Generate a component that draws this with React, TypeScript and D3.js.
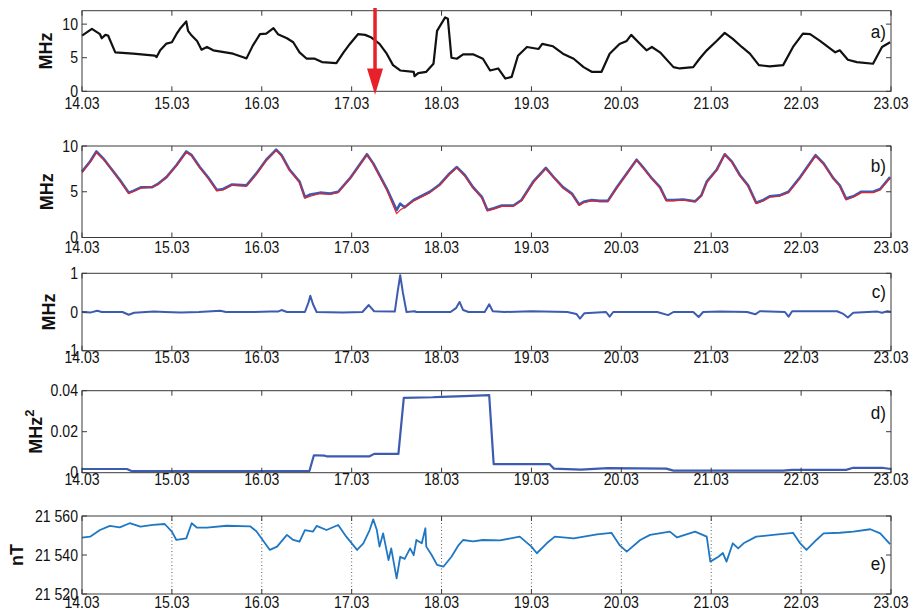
import React from "react";
import * as d3 from "d3";

// ---------- shared x axis ----------
const dayTicks = [14, 15, 16, 17, 18, 19, 20, 21, 22, 23];
const dayTickLabels = ["14.03", "15.03", "16.03", "17.03", "18.03", "19.03", "20.03", "21.03", "22.03", "23.03"];

// ---------- panel a ----------
const aDay = [14.00,14.11,14.20,14.22,14.26,14.29,14.37,14.57,14.81,14.83,14.87,14.94,15.00,15.05,15.09,15.16,15.18,15.22,15.28,15.33,15.39,15.46,15.68,15.81,15.83,15.90,15.98,16.05,16.13,16.18,16.28,16.35,16.42,16.50,16.59,16.67,16.83,16.91,16.98,17.07,17.15,17.22,17.31,17.39,17.46,17.54,17.69,17.70,17.74,17.83,17.91,17.95,18.04,18.07,18.11,18.17,18.24,18.35,18.46,18.54,18.63,18.71,18.78,18.85,18.95,19.08,19.12,19.24,19.35,19.47,19.58,19.67,19.78,19.87,19.98,20.06,20.11,20.19,20.28,20.34,20.43,20.58,20.65,20.80,20.87,20.95,21.06,21.15,21.24,21.34,21.43,21.53,21.65,21.80,21.91,22.02,22.10,22.21,22.38,22.43,22.52,22.62,22.80,22.90,22.99];
const aMHz = [8.3,9.3,8.5,7.9,8.4,8.3,5.8,5.6,5.3,5.1,6.1,7.1,7.3,8.5,9.3,10.4,9.0,8.3,7.5,6.2,6.6,6.1,5.6,5.0,4.9,6.8,8.5,8.6,9.4,8.5,7.9,7.3,5.8,4.85,4.85,4.35,4.2,5.8,7.05,8.5,8.4,8.0,7.05,5.6,3.9,3.1,2.9,2.25,2.7,2.9,4.1,9.0,11.0,10.8,5.0,4.85,5.5,5.5,4.85,3.1,3.4,1.9,2.15,5.3,6.6,6.3,7.05,6.7,5.6,4.85,3.6,2.9,2.9,5.6,7.05,7.5,8.4,7.3,6.1,6.6,5.8,3.6,3.4,3.6,4.85,6.1,7.5,8.7,7.8,6.6,5.6,3.9,3.7,3.9,6.6,8.6,8.5,7.5,5.8,6.1,4.7,4.35,4.1,6.6,7.3];
const aArrowDay = 17.26;

// ---------- panel b ----------
const bDay = [14.00,14.09,14.16,14.24,14.31,14.42,14.52,14.57,14.66,14.78,14.85,14.94,15.05,15.16,15.22,15.31,15.40,15.50,15.57,15.67,15.83,15.94,16.05,16.16,16.22,16.31,16.42,16.48,16.54,16.65,16.76,16.85,16.98,17.07,17.17,17.24,17.39,17.50,17.54,17.59,17.69,17.87,17.98,18.09,18.17,18.26,18.35,18.45,18.51,18.58,18.67,18.80,18.89,19.02,19.16,19.26,19.35,19.45,19.53,19.58,19.67,19.76,19.85,19.95,20.06,20.17,20.24,20.34,20.43,20.50,20.58,20.69,20.82,20.89,20.95,21.06,21.15,21.23,21.32,21.41,21.50,21.58,21.65,21.76,21.86,21.99,22.16,22.25,22.36,22.43,22.50,22.58,22.67,22.80,22.88,22.99];
const bBlue = [7.2,8.3,9.4,8.6,7.7,6.3,4.9,5.1,5.5,5.5,5.9,6.6,7.9,9.4,9.0,7.7,6.6,5.2,5.3,5.8,5.7,7.0,8.5,9.6,9.0,7.4,6.1,4.4,4.7,4.9,4.8,5.0,6.45,7.7,9.1,8.1,5.35,3.0,3.7,3.3,4.1,5.0,5.8,7.0,7.7,6.8,5.5,4.4,3.0,3.2,3.5,3.5,4.1,6.1,7.6,6.45,5.5,4.8,3.6,3.9,4.1,4.0,4.0,5.5,7.0,8.5,7.7,6.45,5.5,4.1,4.1,4.15,3.95,4.6,6.1,7.4,9.1,8.3,6.8,5.7,3.8,4.1,4.5,4.6,5.0,6.6,9.0,8.1,6.45,5.7,4.25,4.5,5.0,5.0,5.3,6.6];
const bRed = [7.1,8.2,9.3,8.5,7.7,6.2,4.8,5.0,5.4,5.5,5.8,6.6,7.8,9.3,8.9,7.6,6.5,5.1,5.2,5.7,5.6,6.9,8.4,9.5,8.9,7.3,6.0,4.3,4.5,4.8,4.7,4.9,6.4,7.6,9.0,8.0,5.2,2.6,3.0,3.3,4.0,4.9,5.7,6.9,7.6,6.7,5.4,4.3,2.9,3.1,3.4,3.4,4.0,6.0,7.5,6.4,5.4,4.7,3.5,3.8,4.0,3.9,3.9,5.4,6.9,8.5,7.6,6.4,5.4,4.0,4.0,4.1,3.9,4.5,6.0,7.3,9.1,8.2,6.7,5.6,3.7,4.0,4.4,4.5,4.9,6.5,8.9,8.0,6.4,5.6,4.1,4.4,4.9,4.9,5.2,6.5];

// ---------- panel c ----------
const cDay = [14.00,14.10,14.17,14.22,14.45,14.52,14.58,14.80,14.92,15.10,15.30,15.54,15.60,15.90,16.10,16.18,16.22,16.28,16.48,16.52,16.54,16.57,16.61,16.90,17.12,17.19,17.25,17.48,17.51,17.54,17.57,17.61,17.70,17.72,18.10,18.16,18.20,18.24,18.30,18.48,18.53,18.57,18.70,19.00,19.40,19.50,19.54,19.59,19.83,19.87,19.91,20.40,20.52,20.58,20.80,20.86,20.91,21.10,21.40,21.49,21.54,21.82,21.86,21.90,22.40,22.47,22.52,22.58,22.85,22.90,22.96,23.00];
const cMHz = [0.0,-0.01,0.03,0.0,0.0,-0.07,-0.02,0.01,0.0,-0.01,0.0,0.03,0.0,0.0,0.01,0.01,0.05,0.0,0.0,0.25,0.42,0.2,0.0,-0.01,0.0,0.18,0.02,0.01,0.5,0.95,0.5,0.0,0.02,0.0,0.0,0.1,0.26,0.05,0.0,0.0,0.2,0.02,0.0,0.02,0.0,-0.05,-0.17,-0.03,0.0,-0.12,0.0,0.0,-0.08,0.0,0.0,-0.13,0.0,0.01,0.0,-0.06,0.02,0.0,-0.12,0.02,0.02,-0.05,-0.14,-0.02,0.01,-0.02,0.02,0.0];

// ---------- panel d ----------
const dDay = [14.00,14.50,14.55,16.53,16.58,16.70,16.72,17.20,17.25,17.52,17.58,17.90,18.00,18.25,18.53,18.58,19.20,19.25,19.55,19.85,20.50,20.58,21.80,21.90,22.50,22.58,22.90,23.00];
const dMHz2 = [0.0018,0.0018,0.0008,0.0008,0.0085,0.0083,0.0080,0.0080,0.0092,0.0092,0.0365,0.0368,0.0370,0.0374,0.0378,0.0042,0.0042,0.0020,0.0015,0.0022,0.0020,0.0010,0.0010,0.0014,0.0014,0.0024,0.0024,0.0018];

// ---------- panel e ----------
const eDay = [14.00,14.09,14.20,14.31,14.42,14.53,14.65,14.79,14.92,15.00,15.05,15.16,15.22,15.28,15.39,15.61,15.87,15.94,16.09,16.17,16.28,16.35,16.42,16.48,16.57,16.61,16.72,16.85,16.94,17.06,17.13,17.20,17.24,17.28,17.31,17.35,17.41,17.44,17.50,17.54,17.59,17.65,17.69,17.72,17.78,17.82,17.83,17.89,17.95,18.02,18.11,18.19,18.24,18.35,18.46,18.65,18.87,19.00,19.06,19.17,19.26,19.47,19.73,19.89,19.98,20.06,20.21,20.32,20.54,20.62,20.82,20.95,20.99,21.08,21.13,21.17,21.24,21.30,21.36,21.50,21.69,21.91,21.99,22.06,22.17,22.25,22.43,22.58,22.77,22.88,22.99];
const eNT = [21548.9,21549.4,21552.8,21554.9,21554.2,21556.3,21554.5,21555.4,21555.9,21552,21547.7,21548.5,21556.3,21554,21554,21555,21554.7,21552.2,21542.6,21544.3,21550.3,21547.7,21546.8,21552.8,21552,21554.9,21552.8,21555.4,21549.4,21542.6,21546,21552.8,21558.3,21552.8,21544.3,21551.1,21537.4,21543.4,21528,21539.1,21538,21543.4,21539.9,21547.7,21546,21553.7,21544.3,21540,21534.9,21534,21539.1,21545.1,21547.7,21547,21547.7,21547.5,21549.4,21544.3,21540.9,21546,21549.4,21548.5,21550.6,21551.4,21545.1,21541.7,21547.7,21550.3,21552,21549,21552,21549.4,21536.6,21539.1,21541,21536.6,21546,21543.4,21546,21549.4,21550.3,21551.4,21545.9,21542.6,21547.7,21551.1,21551.4,21552,21553.2,21551.1,21545.6];

const W = 913;
const H = 613;
const X0 = 82;
const X1 = 891;
const x = d3.scaleLinear().domain([14, 23]).range([X0, X1]);

const FONT = "'Liberation Sans', Arial, Helvetica, sans-serif";
const SX = 0.88;

type Series = { xs: number[]; ys: number[]; color: string; width: number };

type PanelProps = {
  top: number;
  bottom: number;
  domain: [number, number];
  yTicks: number[];
  yTickLabels: string[];
  yLabel: React.ReactNode;
  yLabelX: number;
  xLabelOffset: number;
  tag: string;
  tagY: number;
  series: Series[];
  grid?: boolean;
  children?: React.ReactNode;
};

function Panel(p: PanelProps) {
  const y = d3.scaleLinear().domain(p.domain).range([p.bottom, p.top]);
  const midY = (p.top + p.bottom) / 2;
  const tl = 5;
  return (
    <g>
      <defs>
        <clipPath id={`clip-${p.tag}`}>
          <rect x={X0} y={p.top} width={X1 - X0} height={p.bottom - p.top} />
        </clipPath>
      </defs>
      {p.grid &&
        dayTicks.slice(1, -1).map((d) => (
          <line key={`g${d}`} x1={x(d)} x2={x(d)} y1={p.top} y2={p.bottom} stroke="#333" strokeWidth={0.8} strokeDasharray="1,2.5" />
        ))}
      <g clipPath={`url(#clip-${p.tag})`}>
        {p.series.map((s, i) => {
          const pts: [number, number][] = s.xs.map((d, j) => [x(d), y(s.ys[j])]);
          const path = d3.line().curve(d3.curveLinear)(pts) || "";
          return <path key={i} d={path} fill="none" stroke={s.color} strokeWidth={s.width} strokeLinejoin="round" />;
        })}
      </g>
      <rect x={X0} y={p.top} width={X1 - X0} height={p.bottom - p.top} fill="none" stroke="#3a3a3a" strokeWidth={1} />
      {dayTicks.map((d, i) => (
        <g key={`xt${d}`}>
          <line x1={x(d)} x2={x(d)} y1={p.bottom} y2={p.bottom - tl} stroke="#3a3a3a" />
          <line x1={x(d)} x2={x(d)} y1={p.top} y2={p.top + tl} stroke="#3a3a3a" />
          <text transform={`translate(${x(d)},${p.bottom + p.xLabelOffset}) scale(${SX},1)`} textAnchor="middle" fontSize={16} fontFamily={FONT} fill="#111">
            {dayTickLabels[i]}
          </text>
        </g>
      ))}
      {p.yTicks.map((v, i) => (
        <g key={`yt${v}`}>
          <line x1={X0} x2={X0 + tl} y1={y(v)} y2={y(v)} stroke="#3a3a3a" />
          <line x1={X1} x2={X1 - tl} y1={y(v)} y2={y(v)} stroke="#3a3a3a" />
          <text transform={`translate(${X0 - 4},${y(v) + 5.5}) scale(${SX},1)`} textAnchor="end" fontSize={16} fontFamily={FONT} fill="#111">
            {p.yTickLabels[i]}
          </text>
        </g>
      ))}
      <text transform={`translate(${p.yLabelX},${midY}) rotate(-90)`} textAnchor="middle" fontSize={18} fontWeight="bold" fontFamily={FONT} fill="#111">
        {p.yLabel}
      </text>
      <text transform={`translate(886,${p.tagY}) scale(0.9,1)`} textAnchor="end" fontSize={19} fontFamily={FONT} fill="#111">
        {p.tag}
      </text>
      {p.children}
    </g>
  );
}

export default function App() {
  const ya = d3.scaleLinear().domain([0, 12]).range([91.3, 10.7]);
  const ax = x(aArrowDay);
  return (
    <svg width={W} height={H} style={{ position: "absolute", left: 0, top: 0, background: "#fff" }}>
      <rect x={0} y={0} width={W} height={H} fill="#fff" />
      <Panel
        top={10.7}
        bottom={91.3}
        domain={[0, 12]}
        yTicks={[0, 5, 10]}
        yTickLabels={["0", "5", "10"]}
        yLabel="MHz"
        yLabelX={52}
        xLabelOffset={17.5}
        tag="a)"
        tagY={38}
        series={[{ xs: aDay, ys: aMHz, color: "#111", width: 2.2 }]}
      >
        <line x1={ax} x2={ax} y1={8} y2={ya(3.2)} stroke="#e8202a" strokeWidth={3.5} />
        <polygon points={`${ax - 8},${ya(3.4)} ${ax + 8},${ya(3.4)} ${ax},${ya(-0.5)}`} fill="#e8202a" />
      </Panel>
      <Panel
        top={146}
        bottom={237.5}
        domain={[0, 10]}
        yTicks={[0, 5, 10]}
        yTickLabels={["0", "5", "10"]}
        yLabel="MHz"
        yLabelX={52.5}
        xLabelOffset={15.5}
        tag="b)"
        tagY={172}
        series={[
          { xs: bDay, ys: bBlue, color: "#3d5bb0", width: 2.6 },
          { xs: bDay, ys: bRed, color: "#e8202a", width: 1.1 },
        ]}
      />
      <Panel
        top={273.3}
        bottom={350.7}
        domain={[-1, 1]}
        yTicks={[-1, 0, 1]}
        yTickLabels={["-1", "0", "1"]}
        yLabel="MHz"
        yLabelX={55}
        xLabelOffset={12.5}
        tag="c)"
        tagY={298}
        series={[{ xs: cDay, ys: cMHz, color: "#3d5bb0", width: 2 }]}
      />
      <Panel
        top={390.7}
        bottom={472.7}
        domain={[0, 0.04]}
        yTicks={[0, 0.02, 0.04]}
        yTickLabels={["0", "0.02", "0.04"]}
        yLabel={
          <>
            MHz<tspan dy={-8} fontSize={13}>2</tspan>
          </>
        }
        yLabelX={41.7}
        xLabelOffset={12.5}
        tag="d)"
        tagY={419}
        series={[{ xs: dDay, ys: dMHz2, color: "#3d5bb0", width: 2.2 }]}
      />
      <Panel
        top={516}
        bottom={594}
        domain={[21520, 21560]}
        yTicks={[21520, 21540, 21560]}
        yTickLabels={["21 520", "21 540", "21 560"]}
        yLabel="nT"
        yLabelX={23}
        xLabelOffset={14}
        tag="e)"
        tagY={570}
        grid
        series={[{ xs: eDay, ys: eNT, color: "#1f77c4", width: 1.8 }]}
      />
    </svg>
  );
}
